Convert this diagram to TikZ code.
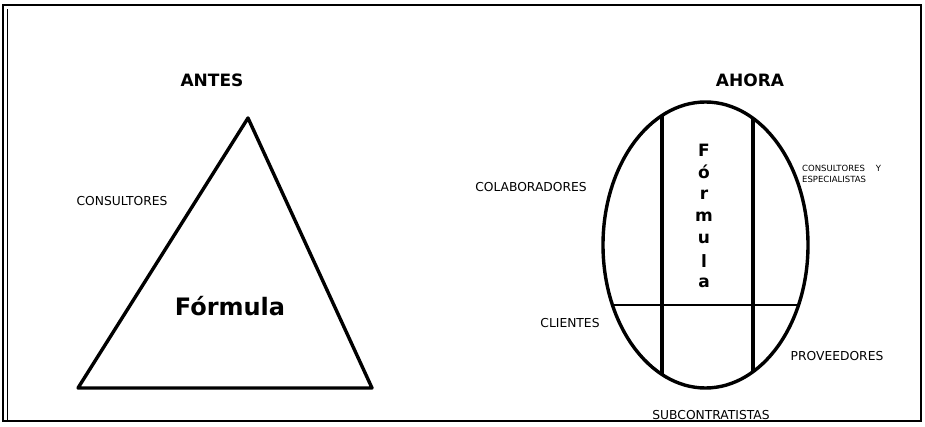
\documentclass[tikz,border=0pt]{standalone}
\usepackage{fontspec}
\setmainfont{DejaVu Sans}
\usetikzlibrary{shapes.geometric}
\tikzset{
  titulo/.style={font=\fontsize{17}{17}\selectfont\bfseries},
  etiqueta/.style={font=\fontsize{12.3}{12}\selectfont, inner sep=0pt},
  trazo/.style={line width=3.4pt, line join=round}
}
\begin{document}
\begin{tikzpicture}[x=1pt, y=1pt]
  \useasboundingbox (0,0) rectangle (925,426);
  % Marco
  \draw[line width=1.4pt] (3,5) rectangle (921,421);
  \draw[line width=0.8pt] (7,5) -- (7,417);
  \draw[line width=2pt] (3,421) -- (921,421);

  % Titulos
  \node[titulo] (antes) at (212,346) {ANTES};
  \node[titulo] (ahora) at (750,346) {AHORA};

  % Antes: triangulo
  \coordinate (ta) at (248,308);
  \coordinate (tb) at (78,38);
  \coordinate (tc) at (372,38);
  \draw[trazo] (ta) -- (tb) -- (tc) -- cycle;
  \node[etiqueta] (consult) at (122,225) {CONSULTORES};
  \node[font=\fontsize{24}{24}\selectfont\bfseries] (formula) at (230,120) {Fórmula};

  % Ahora: ovalo dividido
  \node[draw, ellipse, trazo, minimum width=205, minimum height=286, inner sep=0pt] (ovalo) at (705.5,181) {};
  \begin{scope}
    \clip (705.5,181) ellipse [x radius=102.5, y radius=143];
    \draw[line width=3.2pt] (662,0) -- (662,400);
    \draw[line width=3.2pt] (753,0) -- (753,400);
    \draw[line width=2.4pt] (560,121) -- (850,121);
  \end{scope}
  \foreach \l [count=\i from 0] in {F,ó,r,m,u,l,a} {
    \node[font=\fontsize{17}{17}\selectfont\bfseries] (letra\i) at (704,{276-22.2*\i}) {\l};
  }

  \node[etiqueta] (colab) at (531,239) {COLABORADORES};
  \node[font=\fontsize{8.5}{10.5}\selectfont, inner sep=0pt, align=left, anchor=north west] (espec) at (802,261)
    {CONSULTORES\hspace{11pt}Y\\ESPECIALISTAS};
  \node[etiqueta] (clientes) at (570,103) {CLIENTES};
  \node[etiqueta] (prov) at (837,70) {PROVEEDORES};
  \node[etiqueta] (subcon) at (711,11) {SUBCONTRATISTAS};
\end{tikzpicture}
\end{document}
